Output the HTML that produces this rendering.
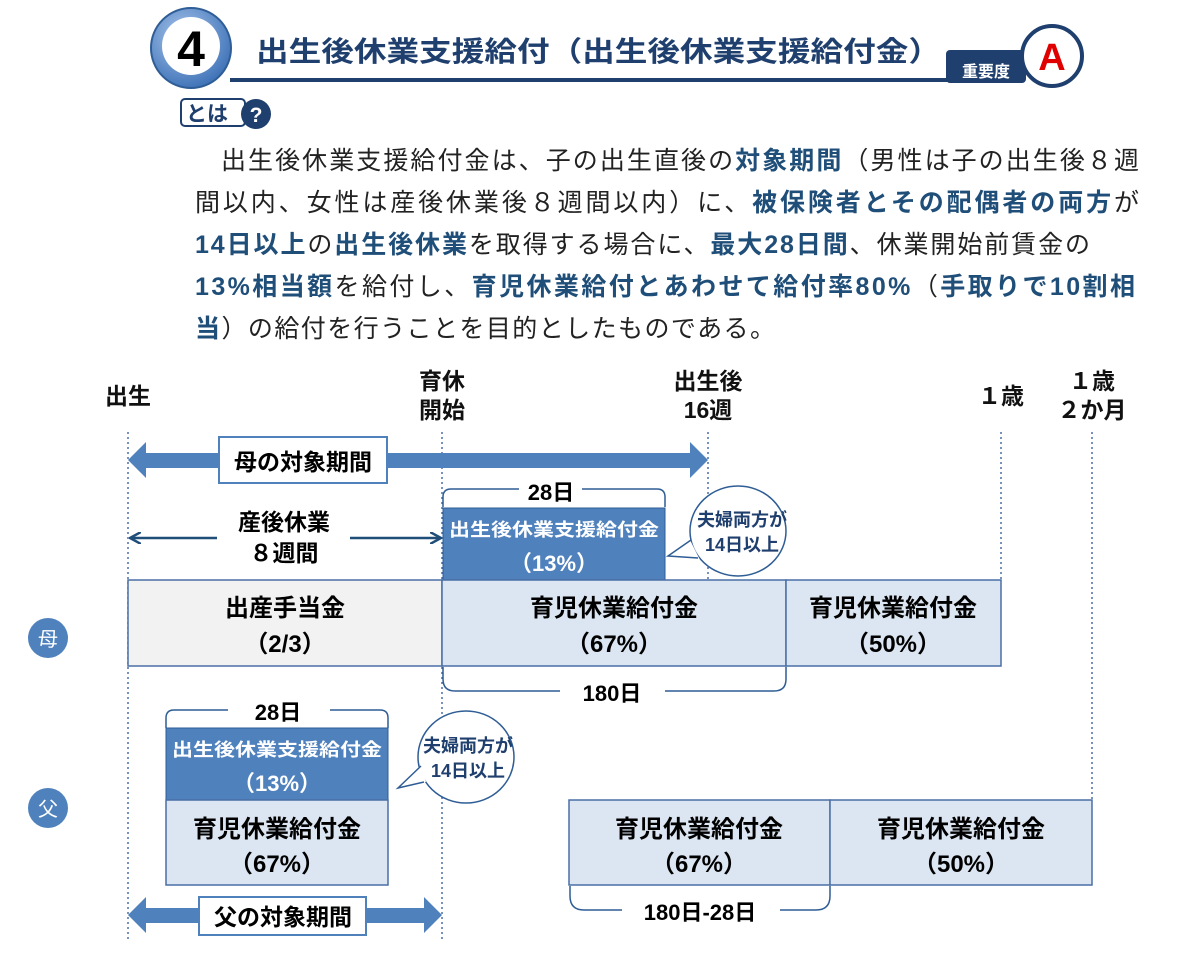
<!DOCTYPE html>
<html><head><meta charset="utf-8"><style>
html,body{margin:0;padding:0;background:#fff;}
svg{display:block;font-family:"Liberation Sans","Noto Sans CJK JP",sans-serif;}
.b{font-weight:bold;}
.h{fill:#1f4e79;font-weight:bold;}
</style></head><body>
<svg width="1200" height="955" viewBox="0 0 1200 955" xmlns="http://www.w3.org/2000/svg">
<defs>
<radialGradient id="g4" cx="40%" cy="35%" r="70%"><stop offset="0" stop-color="#a9c6ec"/><stop offset="1" stop-color="#3a6fb5"/></radialGradient>
<marker id="ah" markerWidth="12" markerHeight="12" refX="10" refY="6" orient="auto" markerUnits="userSpaceOnUse"><path d="M0,0 L11,6 L0,12" fill="none" stroke="#1f4e79" stroke-width="2.5"/></marker>
</defs>
<!-- header -->
<circle cx="191" cy="48" r="40" fill="url(#g4)" stroke="#2f5d95" stroke-width="2"/>
<circle cx="191" cy="46" r="29" fill="#fff"/>
<text x="191" y="66" text-anchor="middle" font-size="50" class="b" fill="#000">4</text>
<rect x="230" y="78" width="720" height="4" fill="#1f3f6e"/>
<text x="256" y="61" font-size="28" class="b" fill="#1f3f6e" textLength="685" lengthAdjust="spacingAndGlyphs">出生後休業支援給付（出生後休業支援給付金）</text>
<rect x="946" y="50" width="80" height="33" rx="4" fill="#1f3f6e"/>
<text x="986" y="77" text-anchor="middle" font-size="16" class="b" fill="#fff">重要度</text>
<circle cx="1052" cy="56" r="30" fill="#fff" stroke="#1f3f6e" stroke-width="4"/>
<text x="1052" y="70" text-anchor="middle" font-size="38" class="b" fill="#e00000">A</text>
<rect x="181" y="99" width="64" height="27" rx="4" fill="#fff" stroke="#1f3f6e" stroke-width="2"/>
<text x="186" y="121" font-size="21" class="b" fill="#1f3f6e">とは</text>
<circle cx="256" cy="114" r="15" fill="#1f3f6e"/>
<text x="256" y="122" text-anchor="middle" font-size="21" class="b" fill="#fff">?</text>
<!-- paragraph -->
<g font-size="25" fill="#222">
<text x="221" y="169" textLength="918" lengthAdjust="spacing">出生後休業支援給付金は、子の出生直後の<tspan class="h">対象期間</tspan>（男性は子の出生後８週</text>
<text x="195" y="211" textLength="944" lengthAdjust="spacing">間以内、女性は産後休業後８週間以内）に、<tspan class="h">被保険者とその配偶者の両方</tspan>が</text>
<text x="195" y="253" textLength="895" lengthAdjust="spacing"><tspan class="h">14日以上</tspan>の<tspan class="h">出生後休業</tspan>を取得する場合に、<tspan class="h">最大28日間</tspan>、休業開始前賃金の</text>
<text x="195" y="295" textLength="940" lengthAdjust="spacing"><tspan class="h">13%相当額</tspan>を給付し、<tspan class="h">育児休業給付とあわせて給付率80%</tspan>（<tspan class="h">手取りで10割相</tspan></text>
<text x="195" y="337" textLength="580" lengthAdjust="spacing"><tspan class="h">当</tspan>）の給付を行うことを目的としたものである。</text>
</g>
<!-- axis labels -->
<g font-size="23" class="b" fill="#111" text-anchor="middle">
<text x="128" y="404">出生</text>
<text x="442" y="389">育休</text><text x="442" y="418">開始</text>
<text x="708" y="389">出生後</text><text x="708" y="418">16週</text>
<text x="1001" y="404">１歳</text>
<text x="1092" y="389">１歳</text><text x="1092" y="418">２か月</text>
</g>
<g stroke="#4a6fa5" stroke-width="1.5" stroke-dasharray="2,3">
<line x1="128" y1="432" x2="128" y2="942"/>
<line x1="442" y1="432" x2="442" y2="942"/>
<line x1="708" y1="432" x2="708" y2="580"/>
<line x1="1001" y1="432" x2="1001" y2="580"/>
<line x1="1092" y1="432" x2="1092" y2="800"/>
</g>
<!-- mother period arrow -->
<rect x="144" y="453" width="548" height="15" fill="#4f81bd"/>
<polygon points="128,460 146,442 146,478" fill="#4f81bd"/>
<polygon points="708,460 690,442 690,478" fill="#4f81bd"/>
<rect x="219" y="437" width="168" height="46" fill="#fff" stroke="#4f81bd" stroke-width="2"/>
<text x="303" y="470" text-anchor="middle" font-size="23" class="b">母の対象期間</text>
<!-- 28日 bracket mother -->
<path d="M443,507 v-10 q0,-8 8,-8 h68 M582,489 h75 q8,0 8,8 v10" fill="none" stroke="#2f5d95" stroke-width="1.5"/>
<text x="551" y="500" text-anchor="middle" font-size="22" class="b">28日</text>
<!-- 産後休業 arrow -->
<line x1="350" y1="538" x2="440" y2="538" stroke="#1f4e79" stroke-width="2.5" marker-end="url(#ah)"/>
<line x1="217" y1="538" x2="131" y2="538" stroke="#1f4e79" stroke-width="2.5" marker-end="url(#ah)"/>
<text x="284" y="530" text-anchor="middle" font-size="23" class="b">産後休業</text>
<text x="284" y="561" text-anchor="middle" font-size="23" class="b">８週間</text>
<!-- mother blue box -->
<rect x="443" y="508" width="222" height="72" fill="#4f81bd" stroke="#2f5d95" stroke-width="1"/>
<text x="554" y="536" text-anchor="middle" font-size="18" class="b" fill="#fff" textLength="210" lengthAdjust="spacingAndGlyphs">出生後休業支援給付金</text>
<text x="554" y="571" text-anchor="middle" font-size="22" class="b" fill="#fff">（13%）</text>
<!-- bubble mother -->
<ellipse cx="738" cy="531" rx="48" ry="45" fill="#fff" stroke="#2f5d95" stroke-width="1.5"/>
<path d="M690,540 L668,556 L700,560 Z" fill="#fff"/>
<path d="M691,540 L668,556 L698,558" fill="none" stroke="#2f5d95" stroke-width="1.5"/>
<text x="742" y="526" text-anchor="middle" font-size="18" class="b" fill="#1f3f6e">夫婦両方が</text>
<text x="742" y="551" text-anchor="middle" font-size="18" class="b" fill="#1f3f6e">14日以上</text>
<!-- mother row -->
<g stroke="#4a6fa5" stroke-width="1.5">
<rect x="128" y="580" width="314" height="86" fill="#f2f2f2"/>
<rect x="442" y="580" width="344" height="86" fill="#dce6f2"/>
<rect x="786" y="580" width="215" height="86" fill="#dce6f2"/>
</g>
<g font-size="24" class="b" text-anchor="middle">
<text x="285" y="616">出産手当金</text><text x="285" y="652">（2/3）</text>
<text x="614" y="616">育児休業給付金</text><text x="614" y="652">（67%）</text>
<text x="893" y="616">育児休業給付金</text><text x="893" y="652">（50%）</text>
</g>
<path d="M443,667 v12 q0,12 12,12 h105 M665,691 h109 q12,0 12,-12 v-12" fill="none" stroke="#2f5d95" stroke-width="1.5"/>
<text x="612" y="701" text-anchor="middle" font-size="22" class="b">180日</text>
<circle cx="48" cy="638" r="20" fill="#4f81bd"/>
<text x="48" y="646" text-anchor="middle" font-size="20" fill="#fff">母</text>
<!-- father -->
<path d="M166,728 v-10 q0,-8 8,-8 h54 M330,710 h50 q8,0 8,8 v10" fill="none" stroke="#2f5d95" stroke-width="1.5"/>
<text x="278" y="720" text-anchor="middle" font-size="22" class="b">28日</text>
<rect x="166" y="728" width="222" height="72" fill="#4f81bd" stroke="#2f5d95" stroke-width="1"/>
<text x="277" y="756" text-anchor="middle" font-size="18" class="b" fill="#fff" textLength="210" lengthAdjust="spacingAndGlyphs">出生後休業支援給付金</text>
<text x="277" y="791" text-anchor="middle" font-size="22" class="b" fill="#fff">（13%）</text>
<ellipse cx="466" cy="757" rx="48" ry="46" fill="#fff" stroke="#2f5d95" stroke-width="1.5"/>
<path d="M420,766 L398,788 L426,782 Z" fill="#fff"/>
<path d="M421,766 L398,788 L424,782" fill="none" stroke="#2f5d95" stroke-width="1.5"/>
<text x="468" y="752" text-anchor="middle" font-size="18" class="b" fill="#1f3f6e">夫婦両方が</text>
<text x="468" y="777" text-anchor="middle" font-size="18" class="b" fill="#1f3f6e">14日以上</text>
<g stroke="#4a6fa5" stroke-width="1.5" fill="#dce6f2">
<rect x="166" y="800" width="222" height="85"/>
<rect x="569" y="800" width="261" height="85"/>
<rect x="830" y="800" width="262" height="85"/>
</g>
<g font-size="24" class="b" text-anchor="middle">
<text x="277" y="837">育児休業給付金</text><text x="277" y="872">（67%）</text>
<text x="699" y="837">育児休業給付金</text><text x="699" y="872">（67%）</text>
<text x="961" y="837">育児休業給付金</text><text x="961" y="872">（50%）</text>
</g>
<path d="M570,886 v10 q0,14 14,14 h38 M780,910 h36 q14,0 14,-14 v-10" fill="none" stroke="#2f5d95" stroke-width="1.5"/>
<text x="700" y="920" text-anchor="middle" font-size="22" class="b">180日-28日</text>
<circle cx="48" cy="808" r="20" fill="#4f81bd"/>
<text x="48" y="816" text-anchor="middle" font-size="20" fill="#fff">父</text>
<!-- father period -->
<rect x="144" y="908" width="282" height="15" fill="#4f81bd"/>
<polygon points="128,915 146,897 146,933" fill="#4f81bd"/>
<polygon points="442,915 424,897 424,933" fill="#4f81bd"/>
<rect x="199" y="897" width="167" height="38" fill="#fff" stroke="#4f81bd" stroke-width="2"/>
<text x="283" y="925" text-anchor="middle" font-size="23" class="b">父の対象期間</text>
</svg>
</body></html>
